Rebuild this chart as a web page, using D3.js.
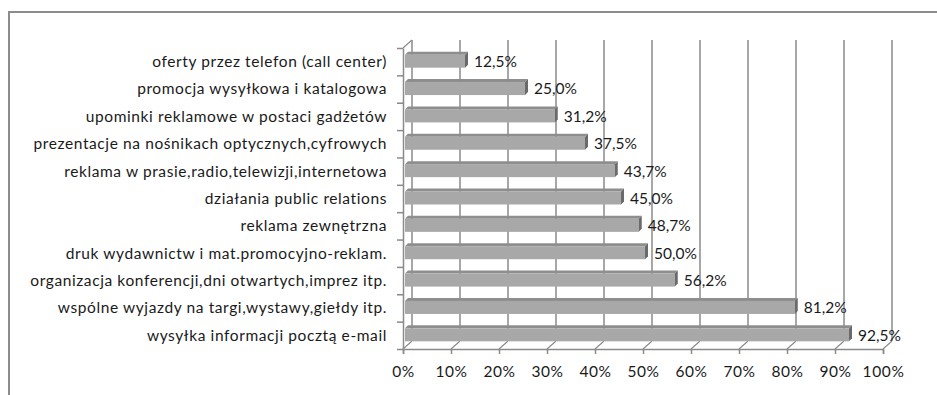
<!DOCTYPE html>
<html>
<head>
<meta charset="utf-8">
<script src="https://cdn.jsdelivr.net/npm/d3@7"></script>
<style>
  body { margin: 0; background: #fff; }
  text { font-family: Lato, "Liberation Sans", sans-serif; fill: #1a1a1a; }
</style>
</head>
<body>
<div id="chart"></div>
<script>

var categories = [
  "oferty przez telefon (call center)",
  "promocja wysyłkowa i katalogowa",
  "upominki reklamowe w postaci gadżetów",
  "prezentacje na nośnikach optycznych,cyfrowych",
  "reklama w prasie,radio,telewizji,internetowa",
  "działania public relations",
  "reklama zewnętrzna",
  "druk wydawnictw i mat.promocyjno-reklam.",
  "organizacja konferencji,dni otwartych,imprez itp.",
  "wspólne wyjazdy na targi,wystawy,giełdy itp.",
  "wysyłka informacji pocztą e-mail"
];
var values = [12.5, 25.0, 31.2, 37.5, 43.7, 45.0, 48.7, 50.0, 56.2, 81.2, 92.5];
var ticks = [0, 10, 20, 30, 40, 50, 60, 70, 80, 90, 100];

var width = 937, height = 395;
var depth = {x: 9, y: -8};   // offset of the back wall
var fontSize = "15.5px";

var svg = d3.select("#chart")
  .append("svg")
    .attr("width", width)
    .attr("height", height);

// frame (only top and left edges are visible)
svg.append("path")
  .attr("d", "M9,940 V12 H940")
  .attr("fill", "none")
  .attr("stroke", "#8c8c8c")
  .attr("stroke-width", 2);

var x = d3.scaleLinear().domain([0, 100]).range([403, 883]);
var y = d3.scaleBand().domain(categories).range([48, 349]);
var yIdx = d3.scaleLinear().domain([0, categories.length]).range([48, 349]);

var plotTop = yIdx(0), plotFloor = yIdx(categories.length);
var grid = "#8a8a8a";

// back wall gridlines
svg.append("g").selectAll("line")
  .data(ticks)
  .enter().append("line")
    .attr("x1", function(d) { return x(d) + depth.x; })
    .attr("x2", function(d) { return x(d) + depth.x; })
    .attr("y1", plotTop + depth.y)
    .attr("y2", plotFloor + depth.y)
    .attr("stroke", grid)
    .attr("stroke-width", 1.5);

// floor diagonals
svg.append("g").selectAll("line")
  .data(ticks)
  .enter().append("line")
    .attr("x1", function(d) { return x(d); })
    .attr("x2", function(d) { return x(d) + depth.x; })
    .attr("y1", plotFloor)
    .attr("y2", plotFloor + depth.y)
    .attr("stroke", grid)
    .attr("stroke-width", 1.2);

// left wall top diagonal
svg.append("line")
  .attr("x1", x(0)).attr("y1", plotTop)
  .attr("x2", x(0) + depth.x).attr("y2", plotTop + depth.y)
  .attr("stroke", grid).attr("stroke-width", 1.2);

// bottom axis
var xAxis = d3.axisBottom(x)
  .tickValues(ticks)
  .tickSize(5)
  .tickPadding(12)
  .tickFormat(function(d) { return d + "%"; });
var gx = svg.append("g")
  .attr("transform", "translate(0," + plotFloor + ")")
  .call(xAxis);
gx.select(".domain").attr("stroke", grid).attr("stroke-width", 1.5);
gx.selectAll(".tick line").attr("stroke", grid).attr("stroke-width", 1.5);
gx.selectAll(".tick text")
  .style("font-family", "Lato, 'Liberation Sans', sans-serif")
  .style("font-size", fontSize)
  .style("letter-spacing", "0.6px")
  .attr("fill", "#1a1a1a");

// left axis (ticks between categories)
var yAxis = d3.axisLeft(yIdx)
  .tickValues(d3.range(0, categories.length + 1))
  .tickSize(6)
  .tickSizeOuter(0)
  .tickFormat("");
var gy = svg.append("g")
  .attr("transform", "translate(" + x(0) + ",0)")
  .call(yAxis);
gy.select(".domain").attr("stroke", grid).attr("stroke-width", 1.5);
gy.selectAll(".tick line").attr("stroke", grid).attr("stroke-width", 1.5);

// category labels
svg.append("g").selectAll("text")
  .data(categories)
  .enter().append("text")
    .attr("x", 387)
    .attr("y", function(d) { return y(d) + y.bandwidth() / 2; })
    .attr("dy", "0.35em")
    .attr("text-anchor", "end")
    .style("font-size", fontSize)
    .style("letter-spacing", "0.6px")
    .text(function(d) { return d; });

// 3d bars
var bh = 13, bd = 3;
var bars = svg.append("g").selectAll("g")
  .data(values)
  .enter().append("g");

function barY(i) { return y(categories[i]) + y.bandwidth() / 2 - 7; }

bars.append("path")   // top face
  .attr("d", function(d, i) {
    var x0 = x(0) + 2, x1 = x(d) + 2, yy = barY(i);
    return "M" + x0 + "," + yy + "L" + (x0 + bd) + "," + (yy - bd) +
           "L" + (x1 + bd) + "," + (yy - bd) + "L" + x1 + "," + yy + "Z";
  })
  .attr("fill", "#8e8e8e");

bars.append("rect")   // front face
  .attr("x", x(0) + 2)
  .attr("y", function(d, i) { return barY(i); })
  .attr("width", function(d) { return x(d) - x(0); })
  .attr("height", bh)
  .attr("fill", "#a8a8a8");

bars.append("path")   // end cap
  .attr("d", function(d, i) {
    var x1 = x(d) + 2, yy = barY(i);
    return "M" + x1 + "," + yy + "L" + (x1 + bd) + "," + (yy - bd) +
           "L" + (x1 + bd) + "," + (yy - bd + bh) + "L" + x1 + "," + (yy + bh) + "Z";
  })
  .attr("fill", "#6a6a6a");

// value labels
var pl = d3.formatLocale({decimal: ",", thousands: " ", grouping: [3], currency: ["", " zł"]});
var fmt = pl.format(".1f");
bars.append("text")
  .attr("x", function(d) { return x(d) + 11; })
  .attr("y", function(d, i) { return y(categories[i]) + y.bandwidth() / 2; })
  .attr("dy", "0.35em")
  .style("font-size", fontSize)
  .text(function(d) { return fmt(d) + "%"; });

</script>
</body>
</html>
